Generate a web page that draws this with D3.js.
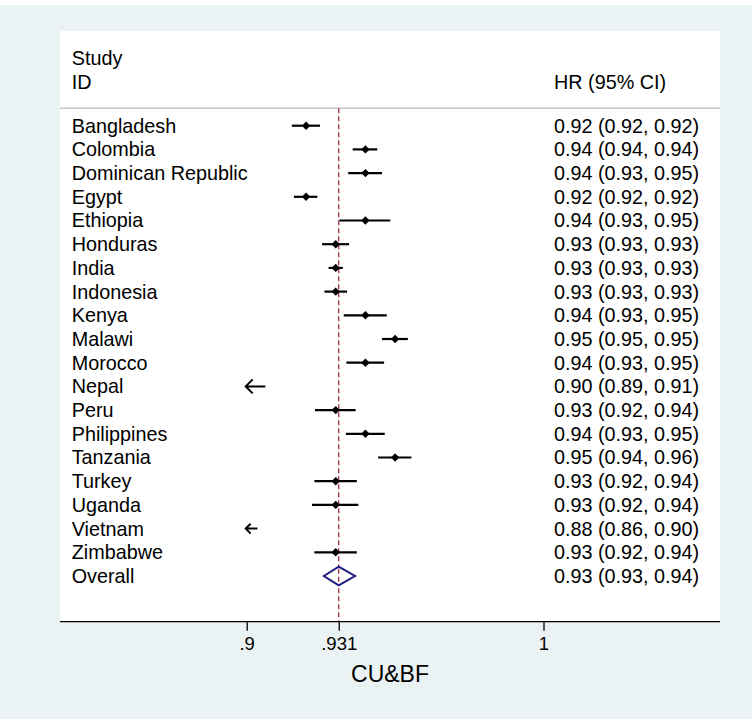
<!DOCTYPE html>
<html>
<head>
<meta charset="utf-8">
<script src="https://cdn.jsdelivr.net/npm/d3@7"></script>
<style>
  html, body { margin: 0; padding: 0; background: #ffffff; }
  svg { display: block; }
  text { font-family: "Liberation Sans", Arial, Helvetica, sans-serif; fill: #000; }
</style>
</head>
<body>
<script>
// Study-level hazard ratios with 95% confidence limits
const studies = [
  "Bangladesh", "Colombia", "Dominican Republic", "Egypt", "Ethiopia",
  "Honduras", "India", "Indonesia", "Kenya", "Malawi", "Morocco", "Nepal",
  "Peru", "Philippines", "Tanzania", "Turkey", "Uganda", "Vietnam", "Zimbabwe"
];
const hr     = [0.92, 0.94, 0.94, 0.92, 0.94, 0.93, 0.93, 0.93, 0.94, 0.95, 0.94, 0.90, 0.93, 0.94, 0.95, 0.93, 0.93, 0.88, 0.93];
const ciLow  = [0.9152, 0.9357, 0.9342, 0.9159, 0.9312, 0.9254, 0.9276, 0.9262, 0.9327, 0.9456, 0.9336, 0.8937, 0.9230, 0.9334, 0.9443, 0.9228, 0.9220, 0.8605, 0.9228];
const ciHigh = [0.9247, 0.9440, 0.9456, 0.9238, 0.9484, 0.9345, 0.9324, 0.9338, 0.9472, 0.9543, 0.9463, 0.9063, 0.9367, 0.9465, 0.9555, 0.9371, 0.9376, 0.8996, 0.9371];

// Pooled estimate
const overallLabel = "Overall";
const overallHR = 0.931;
const overallLow = 0.926;
const overallHigh = 0.9365;

// Axis ticks
const tickValues = [0.9, 0.931, 1];
const tickLabels = [".9", ".931", "1"];
const axisTitle = "CU&BF";
const headerStudy = ["Study", "ID"];
const headerStat = "HR (95% CI)";

const W = 752, H = 721;
const panel = { x0: 60, x1: 720, y0: 31, y1: 621.7 };
const xMin = 0.9; // lower display limit; intervals beyond it get an arrow

const svg = d3.select("body").append("svg").attr("width", W).attr("height", H);

// graph region and white plot region
svg.append("rect").attr("x", 0).attr("y", 5).attr("width", W).attr("height", H - 7).attr("fill", "#eaf2f3");
svg.append("rect").attr("x", panel.x0).attr("y", panel.y0)
  .attr("width", panel.x1 - panel.x0).attr("height", panel.y1 - panel.y0).attr("fill", "#ffffff");

const x = d3.scaleLinear().domain([0.9, 1]).range([246.7, 543.5]);
const nRows = studies.length + 1;
const y = d3.scaleLinear().domain([0, nRows - 1]).range([125.7, 576]);

const fmt = d3.format(".2f");
const textX = 71.7, statX = 554;
const fs = "19.8px";

// header
svg.append("text").attr("x", textX).attr("y", 58).attr("dy", "0.35em").style("font-size", fs).text(headerStudy[0]);
svg.append("text").attr("x", textX).attr("y", 82).attr("dy", "0.35em").style("font-size", fs).text(headerStudy[1]);
svg.append("text").attr("x", statX).attr("y", 82).attr("dy", "0.35em").style("font-size", fs).text(headerStat);
svg.append("line").attr("x1", panel.x0).attr("x2", panel.x1).attr("y1", 108.3).attr("y2", 108.3)
  .attr("stroke", "#c4c4c4").attr("stroke-width", 1.5);

// reference line at the pooled estimate
svg.append("line").attr("x1", x(overallHR)).attr("x2", x(overallHR))
  .attr("y1", 108.3).attr("y2", panel.y1)
  .attr("stroke", "#a0303c").attr("stroke-width", 1.3).attr("stroke-dasharray", "5,3");

const rows = studies.map((s, i) => ({ name: s, hr: hr[i], lo: ciLow[i], hi: ciHigh[i], i }));

// labels
const g = svg.append("g");
g.selectAll("text.name").data(rows).join("text").attr("class", "name")
  .attr("x", textX).attr("y", d => y(d.i)).attr("dy", "0.35em").style("font-size", fs).text(d => d.name);
g.selectAll("text.stat").data(rows).join("text").attr("class", "stat")
  .attr("x", statX).attr("y", d => y(d.i)).attr("dy", "0.35em").style("font-size", fs)
  .text(d => `${fmt(d.hr)} (${fmt(d.lo)}, ${fmt(d.hi)})`);

// confidence intervals within the display range
const inRange = rows.filter(d => d.lo >= xMin);
g.selectAll("line.ci").data(inRange).join("line").attr("class", "ci")
  .attr("x1", d => x(d.lo)).attr("x2", d => x(d.hi))
  .attr("y1", d => y(d.i)).attr("y2", d => y(d.i))
  .attr("stroke", "#000").attr("stroke-width", 2.2);

// point estimates as small diamonds
const dm = 4.2;
g.selectAll("path.pt").data(inRange).join("path").attr("class", "pt")
  .attr("d", d => {
    const cx = x(d.hr), cy = y(d.i);
    return `M${cx - dm},${cy}L${cx},${cy - dm}L${cx + dm},${cy}L${cx},${cy + dm}Z`;
  })
  .attr("fill", "#000");

// intervals crossing the lower limit: left-pointing arrows
const clipped = rows.filter(d => d.lo < xMin);
const minArrow = 11.7;
g.selectAll("path.arrow").data(clipped).join("path").attr("class", "arrow")
  .attr("d", d => {
    const tip = x(xMin) - 1, cy = y(d.i);
    const end = Math.max(x(d.hi), tip + minArrow);
    const len = end - tip;
    const hs = Math.min(7, len * 0.42);
    return `M${end},${cy}L${tip},${cy}M${tip + hs},${cy - hs}L${tip},${cy}L${tip + hs},${cy + hs}`;
  })
  .attr("fill", "none").attr("stroke", "#000").attr("stroke-width", 2);

// pooled row
const oy = y(nRows - 1);
svg.append("text").attr("x", textX).attr("y", oy).attr("dy", "0.35em").style("font-size", fs).text(overallLabel);
svg.append("text").attr("x", statX).attr("y", oy).attr("dy", "0.35em").style("font-size", fs)
  .text(`${fmt(overallHR)} (${fmt(overallLow)}, ${fmt(overallHigh)})`);
const dh = 9.3;
svg.append("path")
  .attr("d", `M${x(overallLow)},${oy}L${x(overallHR)},${oy - dh}L${x(overallHigh)},${oy}L${x(overallHR)},${oy + dh}Z`)
  .attr("fill", "#ffffff").attr("stroke", "#1a1a80").attr("stroke-width", 2);
// dashed line stays visible through the diamond
svg.append("line").attr("x1", x(overallHR)).attr("x2", x(overallHR))
  .attr("y1", oy - dh + 2).attr("y2", oy + dh - 2)
  .attr("stroke", "#a0303c").attr("stroke-width", 1.3).attr("stroke-dasharray", "5,3");

// x axis
const axisG = svg.append("g").attr("transform", `translate(0,${panel.y1})`);
axisG.append("line").attr("x1", panel.x0).attr("x2", panel.x1).attr("stroke", "#000").attr("stroke-width", 1.3);
const axis = d3.axisBottom(x).tickValues(tickValues).tickFormat((d, i) => tickLabels[i]).tickSize(9).tickPadding(6);
const ag = axisG.append("g").call(axis);
ag.select(".domain").remove();
ag.selectAll(".tick line").attr("stroke", "#000").attr("stroke-width", 1.3);
ag.selectAll(".tick text").style("font-size", "18.5px").style("font-family", "'Liberation Sans', Arial, sans-serif").attr("fill", "#000");

svg.append("text").attr("x", (panel.x0 + panel.x1) / 2).attr("y", 682)
  .attr("text-anchor", "middle").style("font-size", "23px").text(axisTitle);
</script>
</body>
</html>
